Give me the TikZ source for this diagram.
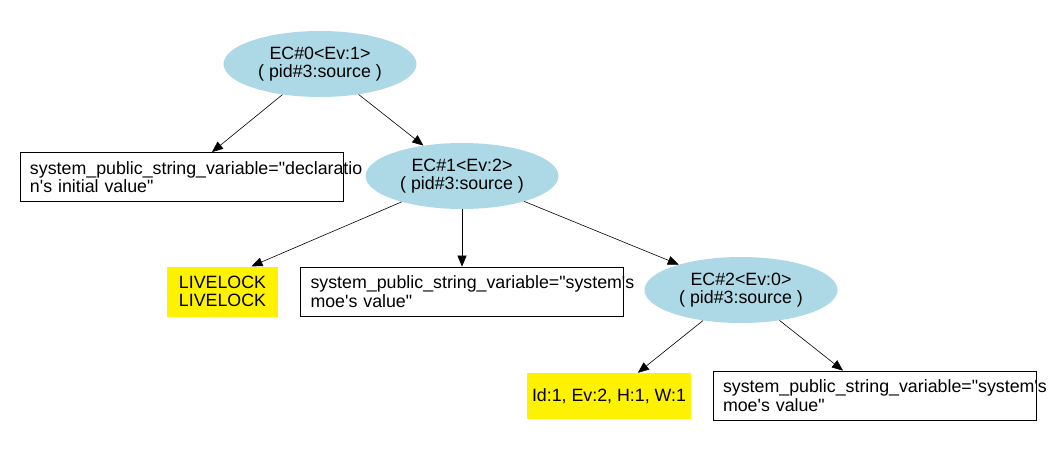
\documentclass[tikz,border=0pt]{standalone}
\usepackage{fontspec}
\setmainfont{Liberation Sans}
\usetikzlibrary{arrows.meta, shapes.geometric}
\definecolor{ecblue}{RGB}{173,216,230}
\newcommand{\apos}{\textquotesingle}
\newcommand{\dq}{\textquotedbl}

\begin{document}
\begin{tikzpicture}[
  x=1pt, y=-1pt,
  font=\fontsize{17.8}{18.6}\selectfont,
  ec/.style={ellipse, fill=ecblue, inner sep=0pt, minimum width=193pt,
             minimum height=66pt, align=center},
  val/.style={draw, line width=0.8pt, inner xsep=10pt, inner ysep=0pt,
              text width=303pt, minimum height=49pt, align=left},
  hit/.style={fill=yellow, inner sep=0pt, minimum height=50pt, align=center},
  arr/.style={-{Triangle[length=11pt, width=9pt]}, line width=0.6pt}
]
\useasboundingbox (0,0) rectangle (1061,463);
\node[ec] (ec0) at (320,64) {EC\#0<Ev:1>\\( pid\#3:source )};
\node[val] (decl) at (181.5,177) {system\_public\_string\_variable=\dq declaratio\\n\apos s initial value\dq};
\node[ec] (ec1) at (462,176) {EC\#1<Ev:2>\\( pid\#3:source )};
\node[hit, minimum width=111pt] (live) at (222.5,291.5) {LIVELOCK\\LIVELOCK};
\node[val] (moe1) at (462,291.5) {system\_public\_string\_variable=\dq system\apos s\\moe\apos s value\dq};
\node[ec] (ec2) at (741,290) {EC\#2<Ev:0>\\( pid\#3:source )};
\node[hit, minimum width=164pt, minimum height=46pt] (stat) at (609,396) {Id:1, Ev:2, H:1, W:1};
\node[val] (moe2) at (874.5,395.5) {system\_public\_string\_variable=\dq system\apos s\\moe\apos s value\dq};
\foreach \a/\b in {ec0/decl,ec0/ec1,ec1/moe1,ec1/ec2,ec2/stat,ec2/moe2} \draw[arr] (\a) -- (\b);
\draw[arr] (ec1) -- ([xshift=29pt]live.north);
\end{tikzpicture}
\end{document}
